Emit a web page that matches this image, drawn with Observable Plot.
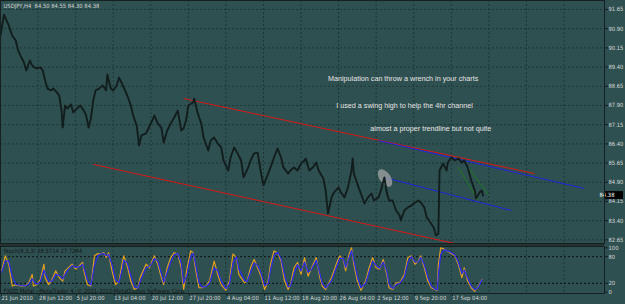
<!DOCTYPE html>
<html><head><meta charset="utf-8">
<script src="https://cdn.jsdelivr.net/npm/d3@7"></script>
<script src="https://cdn.jsdelivr.net/npm/@observablehq/plot@0.6"></script>
<style>
html,body{margin:0;padding:0;background:#2f5050;}
#chart{position:relative;width:625px;height:304px;background:#2f5050;overflow:hidden;font-family:"Liberation Sans",Arial,sans-serif;}
#chart > svg{position:absolute;left:0;overflow:visible;}
#sep{position:absolute;left:0;top:243px;width:604px;height:3px;background:#243232;}
</style></head><body><div id="chart"><div id="sep"></div></div>
<script>
// ---------- data ----------
const symbolTitle = "USDJPY,H4  84.50 84.55 84.30 84.38";
const lastPrice = 84.38;
const stochTitle = "Stoch(8,3,3) 28.5714 27.7284";
const copyright = "FXDD Metal - MetaTrader 4, © 2001-2010 MetaQuotes Software Corp.";

// [bar index, price]
const priceSeries = [[0,90.63],[3,91.45],[7,91.03],[10,90.63],[13,90.44],[15,90.05],[17,89.85],[20,89.58],[22,89.27],[25,89.66],[27,89.46],[30,89.35],[34,89.39],[36,89.27],[38,88.88],[40,88.56],[43,88.49],[45,88.56],[48,88.41],[50,88.29],[52,87.70],[53,87.04],[55,87.90],[57,87.78],[60,87.94],[62,87.63],[65,87.78],[68,87.90],[71,87.70],[73,87.51],[75,87.04],[77,87.39],[79,88.09],[81,88.49],[84,88.56],[87,88.68],[90,88.49],[91,89.11],[94,88.56],[96,88.49],[99,88.68],[101,88.99],[103,88.80],[106,88.49],[108,88.29],[111,87.90],[113,87.51],[116,87.12],[118,86.34],[120,86.73],[124,86.81],[126,87.00],[130,87.39],[131,87.51],[134,87.20],[137,87.04],[139,86.45],[142,86.92],[145,87.20],[148,87.43],[151,87.70],[154,86.92],[156,87.00],[158,87.31],[160,87.90],[164,88.02],[165,88.17],[168,87.59],[171,87.20],[173,86.65],[177,86.14],[179,86.53],[182,86.65],[185,86.42],[188,86.26],[190,85.75],[194,85.36],[196,85.87],[199,86.26],[202,86.03],[205,85.75],[207,85.09],[211,85.48],[213,85.75],[216,86.03],[219,86.06],[222,85.24],[224,84.78],[228,85.24],[230,85.48],[233,85.87],[236,86.22],[239,85.87],[241,85.48],[245,85.24],[247,85.36],[250,85.48],[253,85.36],[256,85.63],[259,85.75],[260,85.83],[263,85.36],[266,85.48],[269,85.67],[271,85.36],[275,85.05],[277,84.58],[279,83.68],[282,84.31],[284,84.50],[288,84.70],[290,84.50],[293,84.31],[296,84.70],[299,85.36],[300,85.83],[301,85.24],[305,84.70],[307,84.46],[310,84.07],[313,84.31],[316,84.46],[318,84.19],[322,84.31],[324,84.58],[327,85.09],[329,84.50],[331,84.19],[334,84.19],[337,83.80],[340,83.60],[341,83.41],[344,83.80],[347,83.92],[350,83.99],[352,84.07],[356,84.19],[358,84.11],[361,83.92],[363,83.53],[365,83.41],[369,83.13],[371,82.82],[373,82.90],[374,85.36],[377,85.63],[380,85.36],[381,85.67],[384,85.87],[387,85.75],[390,85.83],[393,85.67],[395,85.75],[398,85.48],[401,84.97],[404,84.58],[405,84.27],[408,84.50],[410,84.58],[411,84.38]];

// [bar, %K, %D]
const stochSeries = [[1,48,45],[4,82,70],[7,63,70],[10,14,35],[13,17,18],[17,14,15],[21,14,14],[24,21,18],[27,40,30],[28,14,25],[31,17,18],[34,29,24],[37,63,50],[38,33,42],[41,17,25],[44,29,25],[47,48,40],[50,33,38],[53,25,30],[55,48,40],[58,55,52],[61,63,60],[64,52,56],[67,59,57],[70,67,63],[71,48,55],[74,17,28],[77,14,16],[80,82,60],[83,87,82],[85,86,86],[88,89,87],[90,78,82],[92,89,85],[95,48,62],[98,17,28],[101,25,22],[104,70,55],[105,82,72],[108,59,66],[111,25,38],[114,6,12],[117,10,9],[119,33,25],[124,63,55],[127,55,58],[129,70,65],[131,82,76],[134,63,70],[137,33,42],[139,17,22],[142,55,45],[145,78,68],[148,89,85],[151,86,87],[154,55,65],[156,6,20],[159,55,40],[162,93,80],[164,89,88],[166,55,65],[169,10,22],[172,10,11],[175,14,13],[178,25,20],[182,70,55],[185,40,48],[188,17,25],[192,4,8],[195,25,18],[198,86,65],[201,78,80],[203,40,52],[208,21,26],[210,25,24],[213,55,45],[216,74,66],[219,55,60],[222,36,42],[225,6,15],[228,25,20],[230,63,50],[233,93,83],[236,89,90],[239,70,76],[242,25,38],[245,6,12],[247,17,14],[250,55,42],[253,67,62],[256,40,48],[259,78,68],[262,36,45],[265,55,52],[269,78,72],[272,33,42],[274,14,20],[277,6,9],[282,33,26],[286,63,55],[289,82,76],[292,74,76],[294,48,56],[297,86,78],[299,100,94],[301,63,72],[304,25,35],[307,4,10],[311,25,20],[314,55,45],[317,78,70],[320,55,60],[323,52,54],[326,74,68],[329,40,48],[331,10,18],[334,6,8],[337,21,17],[340,21,20],[344,40,34],[347,78,68],[350,82,80],[353,63,68],[356,70,68],[358,82,78],[361,55,62],[364,25,34],[367,10,14],[370,6,7],[372,4,5],[373,63,40],[375,100,85],[378,97,96],[383,89,91],[387,82,84],[390,63,68],[393,33,42],[395,55,50],[398,25,32],[401,10,14],[404,2,5],[407,14,11],[410,28.57,27.73]];

const priceTicks = [91.65,90.90,90.15,89.40,88.65,87.90,87.15,86.40,85.65,84.90,84.15,83.40,82.65];
const stochTicks = [100,80,20,0];
const stochLevels = [80,20];
const dateBars = [0,32,64,96,128,160,192,224,256,288,320,352,384];
const dateLabels = ["21 Jun 2010","28 Jun 12:00","5 Jul 20:00","13 Jul 04:00","20 Jul 12:00","27 Jul 20:00","4 Aug 04:00","11 Aug 12:00","18 Aug 20:00","26 Aug 04:00","2 Sep 12:00","9 Sep 20:00","17 Sep 04:00"];
const gridBars = [0,32,64,96,128,160,192,224,256,288,320,352,384,416,448,480];

// trendlines [bar1, price1, bar2, price2]
const redLines = [[156,88.17,455,85.24],[79,85.60,387,82.51]];
const blueLines = [[322,86.53,497,84.66],[327,85.09,435,83.80]];
const greenLines = [[390,85.48,407,84.19],[399,85.44,416,84.39]];
const highlightAt = [328, 85.05];

const notes = [
  {bar:279, price:88.95, text:"Manipulation can throw a wrench in your charts"},
  {bar:286, price:87.90, text:"I used a swing high to help the 4hr channel"},
  {bar:315, price:87.00, text:"almost a proper trendline but not quite"}
];

// ---------- fonts ----------
const FONT = "Liberation Sans, Arial, sans-serif";
function hasFont(name) {
  const c = document.createElement("canvas").getContext("2d");
  const s = "28 Jun 12:00 Stoch(8,3,3)";
  c.font = "20px monospace"; const a = c.measureText(s).width;
  c.font = `20px "${name}", monospace`; const b = c.measureText(s).width;
  return Math.abs(a - b) > 0.5;
}
let SMALL = FONT, SMALLSIZE = 5.6;
if (hasFont("Liberation Sans Narrow")) { SMALL = "Liberation Sans Narrow, Liberation Sans, sans-serif"; SMALLSIZE = 6.7; }
else if (hasFont("DejaVu Sans Condensed")) { SMALL = "DejaVu Sans Condensed, DejaVu Sans, sans-serif"; SMALLSIZE = 5.8; }

// ---------- style ----------
const xDomain = [0, 514.5];
const GRID = "#1d3737";
const AXISTXT = "#d4d8d8";
const FRAME = "#152020";
const chart = document.getElementById("chart");

const link = (arr, color, w) => Plot.link(arr, {x1: d=>d[0], y1: d=>d[1], x2: d=>d[2], y2: d=>d[3], stroke: color, strokeWidth: w});

// ---------- main price panel ----------
const mainPlot = Plot.plot({
  width: 625, height: 244, marginLeft: 0, marginRight: 21, marginTop: 0, marginBottom: 1,
  style: {background: "transparent", fontFamily: FONT, overflow: "visible"},
  x: {domain: xDomain, axis: null},
  y: {domain: [82.509, 92.0016], axis: null},
  marks: [
    Plot.ruleY(priceTicks, {stroke: GRID, strokeDasharray: "2,2"}),
    Plot.ruleX(gridBars, {stroke: GRID, strokeDasharray: "2,2"}),
    link(redLines, "#d81818", 1),
    link(blueLines, "#2323e0", 1),
    link(greenLines, "#1f7a1f", 1),
    (index, scales) => {
      const cx = scales.x(highlightAt[0]), cy = scales.y(highlightAt[1]);
      return d3.create("svg:ellipse").attr("cx", cx).attr("cy", cy).attr("rx", 10).attr("ry", 5.5)
        .attr("transform", `rotate(55 ${cx} ${cy})`).attr("fill", "#a9a9a9").attr("fill-opacity", 0.7).node();
    },
    Plot.line(priceSeries, {x: d=>d[0], y: d=>d[1], stroke: "#121d1d", strokeWidth: 1.9}),
    Plot.text(notes, {x: "bar", y: "price", text: "text", textAnchor: "start", fill: "#e6e6e6", fontSize: 7.2, fontFamily: FONT}),
    Plot.text([symbolTitle], {frameAnchor: "top-left", dx: 3, dy: 3, lineAnchor: "top", textAnchor: "start", fill: "#d0d4d4", fontSize: SMALLSIZE, fontFamily: SMALL}),
    Plot.axisY(priceTicks, {anchor: "right", label: null, tickSize: 3, tickPadding: 1, tickFormat: d => d.toFixed(2), stroke: FRAME, fill: AXISTXT, fontSize: SMALLSIZE, fontFamily: SMALL}),
    (index, scales) => {
      const g = d3.create("svg:g");
      const x0 = scales.x(xDomain[1]), y0 = scales.y(lastPrice);
      g.append("rect").attr("x", x0 + 1).attr("y", y0 - 4).attr("width", 18).attr("height", 8).attr("fill", "#000");
      g.append("text").attr("x", x0 + 3).attr("y", y0).attr("dy", "0.35em").attr("fill", "#fff")
        .attr("font-size", SMALLSIZE).attr("font-family", SMALL).text(lastPrice.toFixed(2));
      return g.node();
    },
    Plot.frame({stroke: FRAME, strokeWidth: 1})
  ]
});
mainPlot.style.top = "0px";
chart.appendChild(mainPlot);

// ---------- stochastic panel ----------
const stochPlot = Plot.plot({
  width: 625, height: 58, marginLeft: 0, marginRight: 21, marginTop: 0, marginBottom: 11,
  style: {background: "transparent", fontFamily: FONT, overflow: "visible"},
  x: {domain: xDomain, axis: null},
  y: {domain: [-3, 103], axis: null},
  marks: [
    Plot.ruleX(gridBars, {stroke: GRID, strokeDasharray: "2,2"}),
    Plot.ruleY(stochLevels, {stroke: "#0c1010", strokeDasharray: "2,2"}),
    Plot.line(stochSeries, {x: d=>d[0], y: d=>d[1], stroke: "#e0a020", strokeWidth: 1.2}),
    Plot.line(stochSeries, {x: d=>d[0], y: d=>d[2], stroke: "#2b2bf0", strokeWidth: 1.2}),
    Plot.text([stochTitle], {frameAnchor: "top-left", dx: 3, dy: 2, lineAnchor: "top", textAnchor: "start", fill: "#101616", fontSize: SMALLSIZE, fontFamily: SMALL}),
    Plot.text([copyright], {frameAnchor: "bottom-left", dx: 3, dy: -1, lineAnchor: "bottom", textAnchor: "start", fill: "#101616", fontSize: SMALLSIZE, fontFamily: SMALL}),
    Plot.axisY(stochTicks, {anchor: "right", label: null, tickSize: 3, tickPadding: 1, stroke: FRAME, fill: AXISTXT, fontSize: SMALLSIZE, fontFamily: SMALL}),
    Plot.axisX(dateBars, {anchor: "bottom", label: null, tickSize: 3, tickPadding: -1, textAnchor: "start", dx: 1, stroke: FRAME, fill: AXISTXT, fontSize: SMALLSIZE, fontFamily: SMALL,
      tickFormat: d => dateLabels[dateBars.indexOf(d)]}),
    Plot.frame({stroke: FRAME, strokeWidth: 1})
  ]
});
stochPlot.style.top = "246px";
chart.appendChild(stochPlot);
</script>
</body></html>
